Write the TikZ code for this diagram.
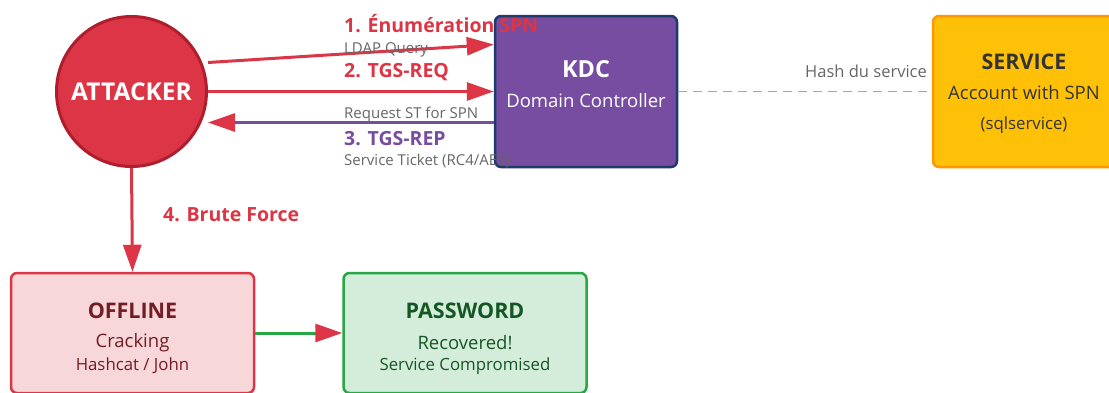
\documentclass[tikz,border=0pt]{standalone}
\usepackage{fontspec}
\setmainfont{Open Sans}
\usetikzlibrary{arrows.meta}
\definecolor{atkred}{HTML}{DC3545}
\definecolor{atkdark}{HTML}{B01E2E}
\definecolor{kdcfill}{HTML}{774DA1}
\definecolor{kdcline}{HTML}{1F3A6E}
\definecolor{svcfill}{HTML}{FFC107}
\definecolor{svcline}{HTML}{FF9800}
\definecolor{offfill}{HTML}{F8D7DA}
\definecolor{offtext}{HTML}{721C24}
\definecolor{pwdfill}{HTML}{D4EDDA}
\definecolor{pwdline}{HTML}{28A745}
\definecolor{pwdtext}{HTML}{155724}
\definecolor{note}{HTML}{666666}
\begin{document}
\begin{tikzpicture}[x=1pt, y=-1pt, >={Triangle[length=27pt, width=18pt, color=atkred]},
    box/.style={draw, line width=2.5pt, rounded corners=6pt, minimum width=182pt, minimum height=151pt},
    lowbox/.style={box, minimum width=243pt, minimum height=120pt},
    title/.style={font=\fontsize{21.5}{21.5}\selectfont\bfseries, inner sep=0pt},
    sub/.style={font=\fontsize{18.5}{18.5}\selectfont, inner sep=0pt},
    small/.style={font=\fontsize{16.8}{16.8}\selectfont, inner sep=0pt},
    steplabel/.style={font=\fontsize{19.5}{19.5}\selectfont\bfseries, inner sep=0pt, anchor=base west},
    note/.style={font=\fontsize{15}{15}\selectfont, text=note, inner sep=0pt, anchor=base west},
    flow/.style={line width=3pt, ->}]
  \useasboundingbox (0,0) rectangle (1109,392);
  % actors
  \node[circle, draw=atkdark, fill=atkred, line width=3pt, minimum size=150pt,
        text=white, font=\fontsize{24.5}{24.5}\selectfont\bfseries] (attacker) at (131.5,91.5) {ATTACKER};
  \node[box, draw=kdcline, fill=kdcfill] (kdc) at (586,91.5) {};
  \node[title, text=white, font=\fontsize{23.5}{23.5}\selectfont\bfseries] (kdcT) at (586,69) {KDC};
  \node[sub, text=white] (kdcS) at (586,101) {Domain Controller};
  \node[box, draw=svcline, fill=svcfill] (svc) at (1024,91.5) {};
  \node[title, text=black!80] (svcT) at (1024,62) {SERVICE};
  \node[sub, text=black!80] (svcS) at (1024,93) {Account with SPN};
  \node[small, text=black!80] (svcU) at (1024,125) {(sqlservice)};
  \node[lowbox, draw=atkred, fill=offfill] (offline) at (132.5,333) {};
  \node[title, text=offtext] (offT) at (132.5,311) {OFFLINE};
  \node[sub, text=offtext] (offS) at (132.5,343) {Cracking};
  \node[small, text=offtext] (offU) at (132.5,366) {Hashcat / John};
  \node[lowbox, draw=pwdline, fill=pwdfill] (pwd) at (465,333) {};
  \node[title, text=pwdtext] (pwdT) at (465,311) {PASSWORD};
  \node[sub, text=pwdtext] (pwdS) at (465,343) {Recovered!};
  \node[small, text=pwdtext] (pwdU) at (465,366) {Service Compromised};
  % exchanges
  \draw[flow, atkred] ([yshift=29pt]attacker.east) -- ([yshift=47pt]kdc.west);
  \draw[flow, atkred] (attacker.east) -- (kdc.west);
  \draw[flow, kdcfill] ([yshift=-31pt]kdc.west) -- ([yshift=-31pt]attacker.east);
  \draw[line width=1.8pt, black!35, dash pattern=on 9pt off 6pt] (kdc.east) -- (svc.west);
  \draw[flow, atkred] (attacker.south) -- (offline.north);
  \draw[flow, pwdline] (offline.east) -- (pwd.west);
  % labels
  \node[steplabel, text=atkred] (l1) at (344,32) {1. Énumération SPN};
  \node[note] (n1) at (344,53) {LDAP Query};
  \node[steplabel, text=atkred] (l2) at (344,77) {2. TGS-REQ};
  \node[note] (n2) at (344,118) {Request ST for SPN};
  \node[steplabel, text=kdcfill] (l3) at (344,145) {3. TGS-REP};
  \node[note] (n3) at (344,165) {Service Ticket (RC4/AES)};
  \node[note, anchor=base east, font=\fontsize{16.5}{16.5}\selectfont] (n4) at (927,77) {Hash du service};
  \node[steplabel, text=atkred] (l4) at (163,221) {4. Brute Force};
\end{tikzpicture}
\end{document}
